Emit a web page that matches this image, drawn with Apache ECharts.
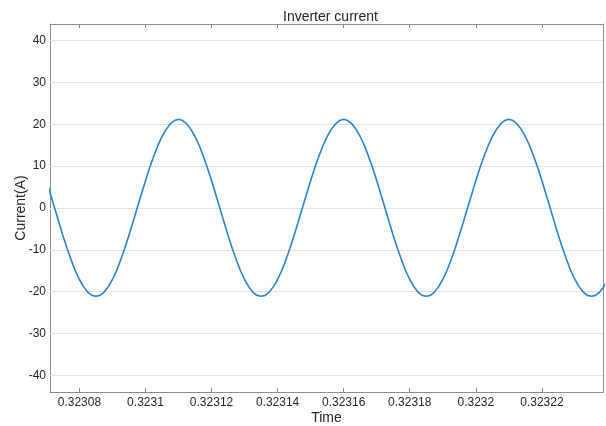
<!DOCTYPE html>
<html>
<head>
<meta charset="utf-8">
<script src="https://cdn.jsdelivr.net/npm/echarts@6/dist/echarts.min.js"></script>
<style>html,body{margin:0;padding:0;background:#fff;}#c{width:606px;height:426px;}</style>
</head>
<body>
<div id="c"></div>
<script>
// Sampling grid of the simulation output (seconds)
const timeStart = 0.32307;
const timeStep = 0.00000125;
// Inverter current (A)
const currentValues = [
  6.6, 3.3, 0.0, -3.3, -6.6, -9.6, -12.4, -15.0, -17.1, -18.8, -20.1, -20.9, -21.1, -20.9, -20.1, -18.8, -17.1, -15.0, -12.4, -9.6,
  -6.5, -3.3, 0.0, 3.3, 6.5, 9.6, 12.4, 14.9, 17.1, 18.8, 20.1, 20.9, 21.2, 20.9, 20.1, 18.8, 17.1, 15.0, 12.4, 9.6,
  6.6, 3.3, 0.0, -3.3, -6.6, -9.6, -12.4, -15.0, -17.1, -18.8, -20.1, -20.9, -21.1, -20.9, -20.1, -18.8, -17.1, -15.0, -12.4, -9.6,
  -6.5, -3.3, 0.0, 3.3, 6.5, 9.6, 12.4, 14.9, 17.1, 18.8, 20.1, 20.9, 21.2, 20.9, 20.1, 18.8, 17.1, 15.0, 12.4, 9.6,
  6.6, 3.3, 0.0, -3.3, -6.6, -9.6, -12.4, -15.0, -17.1, -18.8, -20.1, -20.9, -21.1, -20.9, -20.1, -18.8, -17.1, -15.0, -12.4, -9.6,
  -6.5, -3.3, 0.0, 3.3, 6.5, 9.6, 12.4, 14.9, 17.1, 18.8, 20.1, 20.9, 21.2, 20.9, 20.1, 18.8, 17.1, 15.0, 12.4, 9.6,
  6.6, 3.3, 0.0, -3.3, -6.6, -9.6, -12.4, -15.0, -17.1, -18.8, -20.1, -20.9, -21.1, -20.9, -20.1, -18.8, -17.1
];
const xTickLabels = ['0.32308', '0.3231', '0.32312', '0.32314', '0.32316', '0.32318', '0.3232', '0.32322'];
const yTickLabels = ['-40', '-30', '-20', '-10', '0', '10', '20', '30', '40'];
const xMin = 0.3230711, xMax = 0.3232385;
const yMin = -44, yMax = 44;

const seriesData = currentValues.map((v, i) => [timeStart + i * timeStep, v]);
const xTickValues = xTickLabels.map(Number);
const yTickValues = yTickLabels.map(Number);

const axisColor = '#8c8c8c';
const textColor = '#262626';
const font = 'Liberation Sans, Arial, sans-serif';

const chart = echarts.init(document.getElementById('c'), null, {renderer: 'canvas'});
const xBase = {
  type: 'value', min: xMin, max: xMax,
  axisLine: {show: true, onZero: false, lineStyle: {color: axisColor, width: 1}},
  axisTick: {show: true, inside: true, length: 4, customValues: xTickValues, lineStyle: {color: axisColor}},
  splitLine: {show: false}
};
const yBase = {
  type: 'value', min: yMin, max: yMax,
  axisLine: {show: true, onZero: false, lineStyle: {color: axisColor, width: 1}},
  axisTick: {show: true, inside: true, length: 4, customValues: yTickValues, lineStyle: {color: axisColor}},
  splitLine: {show: false}
};
chart.setOption({
  animation: false,
  backgroundColor: '#fff',
  title: {
    text: 'Inverter current', left: 278, top: 5,
    textStyle: {fontFamily: font, fontSize: 14, fontWeight: 'normal', color: textColor}
  },
  grid: {left: 50, right: 3, top: 24, bottom: 34, containLabel: false, outerBoundsMode: 'none'},
  xAxis: [
    Object.assign({}, xBase, {
      position: 'bottom',
      name: 'Time', nameLocation: 'middle', nameGap: 19, nameMoveOverlap: false,
      nameTextStyle: {fontFamily: font, fontSize: 14, color: textColor},
      axisLabel: {show: true, customValues: xTickValues, margin: 5, fontFamily: font, fontSize: 12, color: textColor,
        formatter: v => String(Number(v.toFixed(5)))}
    }),
    Object.assign({}, xBase, {position: 'top', axisLabel: {show: false}})
  ],
  yAxis: [
    Object.assign({}, yBase, {
      position: 'left',
      name: 'Current(A)', nameLocation: 'middle', nameGap: 22, nameMoveOverlap: false,
      nameTextStyle: {fontFamily: font, fontSize: 14, color: textColor},
      axisLabel: {show: true, customValues: yTickValues, margin: 4, fontFamily: font, fontSize: 12, color: textColor}
    }),
    Object.assign({}, yBase, {position: 'right', axisLabel: {show: false}})
  ],
  series: [
    {
      type: 'line', xAxisIndex: 0, yAxisIndex: 0, data: seriesData, z: 5,
      showSymbol: false, symbol: 'none', smooth: false, clip: true,
      lineStyle: {color: '#2a86cf', width: 1.6}
    },
    // grid lines drawn as mark lines at the tick values
    {
      type: 'line', xAxisIndex: 0, yAxisIndex: 0, data: [], silent: true, z: 1,
      markLine: {
        silent: true, symbol: 'none', animation: false, label: {show: false}, z: 1,
        lineStyle: {color: '#e3e3e3', width: 1, type: 'solid'},
        data: xTickValues.map(v => ({xAxis: v})).concat(yTickValues.map(v => ({yAxis: v})))
      }
    }
  ]
});
</script>
</body>
</html>
